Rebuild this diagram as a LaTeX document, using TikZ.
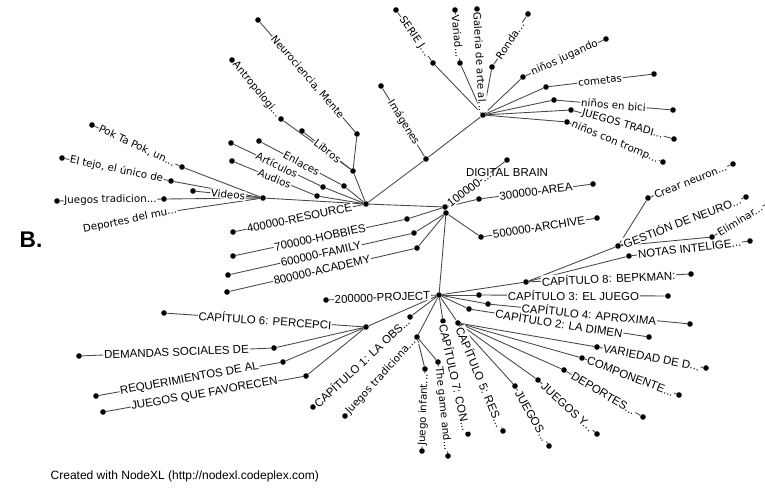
\documentclass[tikz,border=0pt]{standalone}
\usepackage{fontspec}
\setmainfont{Liberation Sans}
\newfontfamily\dvsans{DejaVu Sans}
\usepackage{tikz}
\usetikzlibrary{positioning}

\begin{document}
\begin{tikzpicture}[
    x=0.75pt, y=-0.75pt,
    dot/.style  = {circle, fill=black, inner sep=0pt, minimum size=4.2pt},
    link/.style = {draw=black!72, line width=0.65pt},
    capl/.style = {sloped, midway, fill=white, inner sep=0.6pt,
                   font=\fontsize{8.6}{9}\selectfont},
    lowl/.style = {sloped, midway, fill=white, inner sep=0.6pt,
                   font=\dvsans\fontsize{7.7}{9}\selectfont}
]
\useasboundingbox (0,0) rectangle (765,489);

%% Hubs
\node[dot] (res)   at (366,204) {};
\node[dot] (hund)  at (445,207) {};
\node[dot] (hundb) at (446,213) {};
\node[dot] (top)   at (483,115) {};
\node[dot] (proj)  at (439,295) {};
\node[dot] (img)   at (426,159) {};

%% Resource branch
\node[dot] (lib)  at (353,171) {};
\node[dot] (nrn)  at (357,134) {};
\node[dot] (nr)   at (258,20)  {};
\node[dot] (lbn)  at (302,131) {};
\node[dot] (ann)  at (281,119) {};
\node[dot] (an)   at (232,60)  {};
\node[dot] (enn)  at (344,186) {};
\node[dot] (en)   at (259,141) {};
\node[dot] (artn) at (323,187) {};
\node[dot] (art)  at (231,143) {};
\node[dot] (aun)  at (317,196) {};
\node[dot] (au)   at (232,161) {};
\node[dot] (vid)  at (263,198) {};
\node[dot] (vdot) at (193,191) {};
\node[dot] (pkn)  at (182,167) {};
\node[dot] (pk)   at (92,125)  {};
\node[dot] (tjn)  at (171,181) {};
\node[dot] (tj)   at (62,158)  {};
\node[dot] (jtn)  at (164,199) {};
\node[dot] (jt)   at (57,201)  {};
\node[dot] (dmun) at (168,212) {};
\node[dot] (dmu)  at (92,228)  {};
\node[dot] (ra)   at (233,232) {};
\node[dot] (im)   at (381,86)  {};

%% 100000 branch
\node[dot] (hbn)   at (407,219) {};
\node[dot] (hb)    at (233,256) {};
\node[dot] (fmn)   at (414,233) {};
\node[dot] (fm)    at (228,275) {};
\node[dot] (acn)   at (417,248) {};
\node[dot] (ac)    at (227,292) {};
\node[dot] (arn)   at (479,199) {};
\node[dot] (ar)    at (593,184) {};
\node[dot] (chn)   at (481,237) {};
\node[dot] (ch)    at (597,218) {};
\node[dot] (brain) at (507,160) {};

%% Games branch (top)
\node[dot] (sjn) at (433,63)  {};
\node[dot] (sj)  at (396,10)  {};
\node[dot] (van) at (460,63)  {};
\node[dot] (va)  at (455,10)  {};
\node[dot] (ga)  at (477,9)   {};
\node[dot] (ron) at (492,67)  {};
\node[dot] (ro)  at (528,14)  {};
\node[dot] (njn) at (523,77)  {};
\node[dot] (nj)  at (606,39)  {};
\node[dot] (cmn) at (546,87)  {};
\node[dot] (cm)  at (654,74)  {};
\node[dot] (nbn) at (554,100) {};
\node[dot] (nb)  at (673,110) {};
\node[dot] (jrn) at (571,110) {};
\node[dot] (jr)  at (674,139) {};
\node[dot] (ncn) at (567,122) {};
\node[dot] (nc)  at (663,162) {};

%% Project branch
\node[dot] (pj)  at (326,300) {};
\node[dot] (c8n) at (526,282) {};
\node[dot] (c8)  at (691,274) {};
\node[dot] (gsn) at (618,246) {};
\node[dot] (gs)  at (746,197) {};
\node[dot] (crn) at (648,198) {};
\node[dot] (cr)  at (733,164) {};
\node[dot] (eln) at (712,237) {};
\node[dot] (el)  at (768,203) {};
\node[dot] (ntn) at (629,256) {};
\node[dot] (nt)  at (750,241) {};
\node[dot] (c3n) at (479,295) {};
\node[dot] (c3)  at (668,296) {};
\node[dot] (c4n) at (488,304) {};
\node[dot] (c4)  at (690,324) {};
\node[dot] (c2n) at (469,309) {};
\node[dot] (c2)  at (649,337) {};
\node[dot] (c5n) at (458,323) {};
\node[dot] (c5)  at (503,431) {};
\node[dot] (vdn) at (597,347) {};
\node[dot] (vd)  at (706,368) {};
\node[dot] (cpn) at (582,358) {};
\node[dot] (cp)  at (679,395) {};
\node[dot] (dpn) at (564,370) {};
\node[dot] (dp)  at (643,417) {};
\node[dot] (jyn) at (538,380) {};
\node[dot] (jy)  at (597,434) {};
\node[dot] (jgn) at (515,386) {};
\node[dot] (jg)  at (549,446) {};
\node[dot] (c7n) at (443,321) {};
\node[dot] (c7)  at (468,434) {};
\node[dot] (jan) at (417,337) {};
\node[dot] (ja)  at (345,416) {};
\node[dot] (jin) at (425,369) {};
\node[dot] (ji)  at (422,451) {};
\node[dot] (tgn) at (438,362) {};
\node[dot] (tg)  at (448,456) {};
\node[dot] (c1n) at (410,317) {};
\node[dot] (c1)  at (313,407) {};
\node[dot] (c6n) at (366,327) {};
\node[dot] (c6)  at (164,313) {};
\node[dot] (dmn) at (274,348) {};
\node[dot] (dm)  at (79,356)  {};
\node[dot] (rqn) at (283,362) {};
\node[dot] (rq)  at (96,396)  {};
\node[dot] (jfn) at (306,376) {};
\node[dot] (jf)  at (103,412) {};

%% Plain links
\draw[link] (res) -- (lib);  \draw[link] (res) -- (enn);
\draw[link] (res) -- (artn); \draw[link] (res) -- (aun);
\draw[link] (res) -- (vid);  \draw[link] (res) -- (img);
\draw[link] (img) -- (top);  \draw[link] (res) -- (hund);
\draw[link] (lib) -- (nrn);  \draw[link] (lib) -- (ann);
\draw[link] (vid) -- (pkn);  \draw[link] (vid) -- (tjn);
\draw[link] (vid) -- (jtn);  \draw[link] (vid) -- (dmun);
\draw[link] (hund) -- (hbn);  \draw[link] (hundb) -- (fmn);
\draw[link] (hundb) -- (acn); \draw[link] (hund) -- (arn);
\draw[link] (hundb) -- (chn); \draw[link] (hund) -- (hundb);
\draw[link] (hundb) -- (proj);
\draw[link] (top) -- (sjn); \draw[link] (top) -- (van);
\draw[link] (top) -- (ron); \draw[link] (top) -- (njn);
\draw[link] (top) -- (cmn); \draw[link] (top) -- (nbn);
\draw[link] (top) -- (jrn); \draw[link] (top) -- (ncn);
\draw[link] (proj) -- (c8n); \draw[link] (c8n) -- (gsn);
\draw[link] (c8n) -- (ntn);  \draw[link] (gsn) -- (crn);
\draw[link] (gsn) -- (eln);
\draw[link] (proj) -- (c3n); \draw[link] (proj) -- (c4n);
\draw[link] (proj) -- (c2n); \draw[link] (proj) -- (c5n);
\draw[link] (c5n) -- (vdn);  \draw[link] (c5n) -- (cpn);
\draw[link] (c5n) -- (dpn);  \draw[link] (c5n) -- (jyn);
\draw[link] (c5n) -- (jgn);
\draw[link] (proj) -- (c7n); \draw[link] (proj) -- (jan);
\draw[link] (jan) -- (jin);  \draw[link] (jan) -- (tgn);
\draw[link] (proj) -- (c1n); \draw[link] (proj) -- (c6n);
\draw[link] (c6n) -- (dmn);  \draw[link] (c6n) -- (rqn);
\draw[link] (c6n) -- (jfn);

%% Labelled links - resource side
\draw[link] (nr)  -- node[lowl]{Neurociencia, Mente} (nrn);
\draw[link] (an)  -- node[lowl]{Antropologi...} (ann);
\draw[link] (lbn) -- node[lowl]{Libros} (lib);
\draw[link] (en)  -- node[lowl]{Enlaces} (enn);
\draw[link] (art) -- node[lowl]{Artículos} (artn);
\draw[link] (au)  -- node[lowl]{Audios} (aun);
\draw[link] (pk)  -- node[lowl]{Pok Ta Pok, un...} (pkn);
\draw[link] (tj)  -- node[lowl]{El tejo, el único de} (tjn);
\draw[link] (jt)  -- node[lowl]{Juegos tradicion...} (jtn);
\draw[link] (dmu) -- node[lowl]{Deportes del mu...} (dmun);
\draw[link] (vdot) -- node[lowl]{Videos} (vid);
\draw[link] (im)  -- node[lowl]{Imágenes} (img);
\draw[link] (ra)  -- node[capl]{400000-RESOURCE} (res);

%% Labelled links - 100000 side
\draw[link] (hb) -- node[capl]{700000-HOBBIES} (hbn);
\draw[link] (fm) -- node[capl]{600000-FAMILY} (fmn);
\draw[link] (ac) -- node[capl]{800000-ACADEMY} (acn);
\draw[link] (arn) -- node[capl]{300000-AREA} (ar);
\draw[link] (chn) -- node[capl]{500000-ARCHIVE} (ch);
\draw[link] (hund) -- node[capl, pos=0.38]{100000-...} (brain);
\node[below=0.5pt of brain, font=\fontsize{8.6}{9}\selectfont] (brainlbl) {DIGITAL BRAIN};

%% Labelled links - games
\draw[link] (sj) -- node[lowl]{SERIE J...} (sjn);
\draw[link] (va) -- node[lowl]{Variad...} (van);
\draw[link] (ga) -- node[lowl]{Galeria de arte al...} (top);
\draw[link] (ro) -- node[lowl]{Ronda...} (ron);
\draw[link] (njn) -- node[lowl]{niños jugando} (nj);
\draw[link] (cmn) -- node[lowl]{cometas} (cm);
\draw[link] (nbn) -- node[lowl]{niños en bici} (nb);
\draw[link] (jrn) -- node[lowl]{JUEGOS TRADI...} (jr);
\draw[link] (ncn) -- node[lowl]{niños con tromp...} (nc);

%% Labelled links - project
\draw[link] (pj)  -- node[capl]{200000-PROJECT} (proj);
\draw[link] (c8n) -- node[capl]{CAPÍTULO 8: BEPKMAN:} (c8);
\draw[link] (gsn) -- node[capl]{GESTIÓN DE NEURO...} (gs);
\draw[link] (crn) -- node[lowl]{Crear neuron...} (cr);
\draw[link] (eln) -- node[lowl]{Eliminar...} (el);
\draw[link] (ntn) -- node[capl]{NOTAS INTELIGE...} (nt);
\draw[link] (c3n) -- node[capl]{CAPÍTULO 3: EL JUEGO} (c3);
\draw[link] (c2n) -- node[capl]{CAPÍTULO 2: LA DIMEN} (c2);
\draw[link] (c4n) -- node[capl]{CAPÍTULO 4: APROXIMA} (c4);
\draw[link] (vdn) -- node[capl]{VARIEDAD DE D...} (vd);
\draw[link] (cpn) -- node[capl]{COMPONENTE...} (cp);
\draw[link] (dpn) -- node[capl]{DEPORTES...} (dp);
\draw[link] (jyn) -- node[capl]{JUEGOS Y...} (jy);
\draw[link] (jgn) -- node[capl]{JUEGOS...} (jg);
\draw[link] (c5n) -- node[capl]{CAPÍTULO 5: RES...} (c5);
\draw[link] (c7n) -- node[capl]{CAPÍTULO 7: CON...} (c7);
\draw[link] (jan) -- node[lowl]{Juegos tradiciona...} (ja);
\draw[link] (jin) -- node[lowl]{Juego infant...} (ji);
\draw[link] (tgn) -- node[lowl]{The game and...} (tg);
\draw[link] (c1n) -- node[capl]{CAPÍTULO 1: LA OBS...} (c1);
\draw[link] (c6n) -- node[capl]{CAPÍTULO 6: PERCEPCI} (c6);
\draw[link] (dm)  -- node[capl]{DEMANDAS SOCIALES DE} (dmn);
\draw[link] (rq)  -- node[capl]{REQUERIMIENTOS DE AL} (rqn);
\draw[link] (jf)  -- node[capl]{JUEGOS QUE FAVORECEN} (jfn);

%% Panel letter and credit line
\node[font=\bfseries\fontsize{17}{18}\selectfont] (panel) at (31,240) {B.};
\node[anchor=west, font=\fontsize{9}{10}\selectfont] (credit) at (46,476)
    {Created with NodeXL (http://nodexl.codeplex.com)};

\end{tikzpicture}
\end{document}
